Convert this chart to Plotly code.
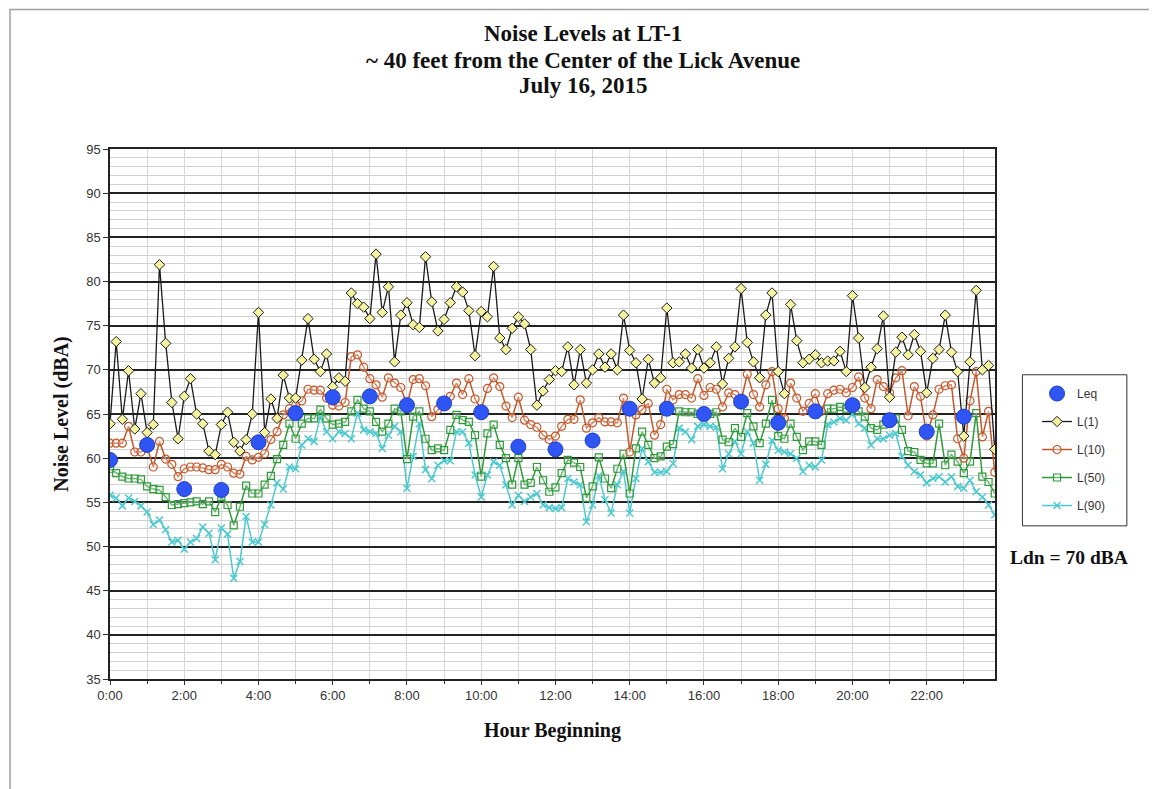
import plotly.graph_objects as go

# 10-minute intervals, 0:00 .. 23:50
minutes = list(range(0, 1440, 10))
hours = [m / 60 for m in minutes]

leq_hours = list(range(24))
leq = [59.8, 61.5, 56.5, 56.4, 61.8, 65.1, 66.9, 67.0, 66.0, 66.2, 65.2, 61.3,
       61.0, 62.0, 65.6, 65.6, 65.0, 66.4, 64.0, 65.3, 66.0, 64.3, 63.0, 64.7]

l1 = [63.9, 73.2, 64.4, 69.9, 63.3, 67.3, 62.9, 63.8, 81.9, 73.0, 66.3, 62.2,
      67.0, 69.0, 65.0, 63.9, 60.8, 60.4, 63.8, 65.2, 61.8, 60.8, 62.1, 65.0,
      76.5, 62.9, 66.7, 64.5, 69.4, 66.8, 66.8, 71.1, 75.8, 71.2, 69.8, 71.8,
      68.1, 69.1, 68.7, 78.7, 77.5, 77.1, 75.8, 83.1, 76.5, 79.4, 70.9, 76.2,
      77.6, 75.1, 74.8, 82.8, 77.7, 74.4, 75.7, 77.6, 79.4, 78.8, 76.7, 71.6,
      76.6, 76.0, 81.7, 73.6, 72.3, 74.7, 76.0, 75.2, 72.3, 66.0, 67.6, 68.9,
      69.9, 69.8, 72.6, 68.3, 72.3, 68.5, 70.0, 71.8, 70.3, 71.8, 70.0, 76.2,
      72.2, 70.8, 66.7, 71.2, 68.5, 69.1, 77.0, 70.8, 70.9, 71.8, 70.2, 72.3,
      70.2, 70.8, 72.6, 68.4, 71.3, 72.6, 79.2, 73.1, 70.9, 69.1, 76.2, 78.7,
      69.8, 67.3, 77.4, 73.3, 70.8, 71.2, 71.7, 70.8, 71.0, 71.0, 72.1, 69.8,
      78.4, 73.6, 68.0, 70.3, 72.4, 76.1, 66.9, 72.0, 73.7, 71.7, 74.0, 72.1,
      67.4, 71.3, 72.3, 76.2, 72.0, 69.8, 62.5, 70.9, 79.0, 70.0, 70.5, 61.0]

l10 = [61.7, 61.7, 61.7, 63.6, 60.7, 60.7, 61.3, 59.0, 61.9, 59.9, 59.3, 57.9,
       58.8, 59.0, 59.0, 58.9, 58.7, 58.7, 59.3, 59.0, 58.3, 58.2, 60.2, 59.8,
       60.1, 60.5, 62.1, 63.0, 64.9, 65.6, 66.0, 66.5, 67.8, 67.7, 67.7, 66.8,
       66.0, 65.9, 66.3, 71.5, 71.7, 70.3, 69.0, 68.3, 66.9, 69.1, 68.5, 68.0,
       66.0, 68.9, 69.0, 68.2, 64.7, 65.5, 66.3, 67.0, 68.5, 67.2, 69.0, 66.7,
       65.5, 67.9, 69.1, 68.1, 65.9, 64.6, 66.9, 64.3, 63.8, 63.5, 62.6, 62.1,
       62.5, 63.6, 64.4, 64.4, 66.6, 63.4, 64.0, 64.6, 64.1, 64.1, 64.0, 66.8,
       60.7, 64.9, 65.5, 66.2, 62.6, 63.8, 67.8, 66.6, 67.2, 67.2, 66.8, 69.0,
       67.1, 68.0, 67.8, 65.8, 67.4, 67.2, 66.5, 69.5, 67.2, 65.8, 68.3, 69.8,
       65.6, 64.5, 68.5, 66.8, 65.3, 66.2, 67.3, 65.3, 67.3, 67.7, 67.8, 67.4,
       68.0, 69.2, 66.8, 65.6, 68.9, 68.1, 67.4, 69.1, 69.9, 64.8, 68.1, 67.0,
       62.5, 64.9, 67.8, 68.2, 68.3, 62.2, 60.0, 66.5, 69.8, 62.4, 65.3, 58.4]

l50 = [58.8, 58.3, 57.9, 57.7, 57.7, 57.6, 56.8, 56.5, 56.4, 55.6, 54.7, 54.8,
       54.9, 55.0, 55.1, 54.8, 55.1, 53.9, 55.6, 54.7, 52.4, 54.5, 56.9, 56.0,
       56.0, 57.0, 58.0, 59.9, 61.5, 63.9, 62.2, 63.9, 64.5, 64.5, 65.5, 64.5,
       63.8, 63.9, 64.1, 65.3, 66.6, 65.6, 65.3, 64.1, 63.0, 63.9, 65.6, 65.3,
       59.9, 64.7, 65.3, 62.2, 60.9, 61.1, 60.9, 63.2, 64.9, 64.3, 64.1, 62.6,
       57.9, 62.8, 63.8, 61.5, 60.0, 57.0, 60.0, 57.0, 57.2, 59.0, 57.5, 56.2,
       56.7, 58.3, 59.8, 59.5, 59.0, 55.5, 56.8, 60.1, 57.7, 56.6, 58.8, 60.5,
       56.0, 61.1, 63.0, 61.5, 60.0, 60.2, 61.3, 61.6, 65.3, 65.2, 65.2, 65.0,
       65.2, 65.0, 65.2, 62.1, 61.8, 63.4, 62.4, 65.1, 63.6, 61.7, 63.9, 66.6,
       62.5, 62.2, 63.9, 62.4, 60.9, 61.9, 61.9, 61.5, 65.6, 65.6, 65.8, 65.6,
       66.1, 65.3, 64.7, 63.4, 63.2, 63.8, 64.5, 64.5, 63.2, 60.8, 60.7, 59.8,
       59.4, 59.4, 63.9, 59.2, 60.4, 59.6, 58.3, 59.6, 65.1, 57.9, 57.3, 56.0]

l90 = [55.8, 55.5, 54.6, 55.5, 55.1, 54.6, 53.9, 52.5, 53.0, 51.9, 50.5, 50.7,
       49.7, 50.5, 50.9, 52.2, 51.5, 48.5, 52.1, 51.4, 46.4, 48.3, 53.4, 50.5,
       50.5, 52.5, 54.7, 57.2, 56.5, 59.0, 58.8, 61.5, 62.2, 61.9, 64.7, 63.0,
       62.2, 63.0, 62.8, 62.2, 65.1, 63.2, 63.0, 62.8, 61.1, 62.6, 63.6, 63.0,
       56.6, 60.2, 63.9, 58.7, 57.7, 59.2, 59.7, 59.7, 63.0, 63.0, 61.7, 58.1,
       55.6, 58.1, 59.6, 59.2, 57.0, 54.7, 55.8, 55.1, 55.6, 56.0, 54.7, 54.4,
       54.3, 54.4, 57.7, 57.3, 57.0, 52.8, 54.7, 58.0, 55.3, 53.8, 57.0, 58.5,
       53.8, 57.7, 61.1, 59.6, 58.4, 58.4, 58.5, 59.4, 63.4, 63.0, 62.1, 63.6,
       63.8, 63.6, 63.5, 58.8, 60.5, 61.9, 60.5, 63.0, 61.7, 57.5, 59.3, 62.0,
       60.9, 60.7, 60.5, 60.0, 58.5, 59.2, 59.0, 59.8, 63.8, 64.1, 64.5, 64.3,
       65.0, 63.9, 63.4, 61.5, 62.2, 62.2, 62.6, 62.8, 60.2, 59.2, 58.5, 58.1,
       57.2, 57.7, 57.9, 57.3, 57.9, 56.8, 56.6, 57.5, 56.2, 55.6, 54.7, 53.6]

tick_hours = list(range(0, 24, 2))
tick_labels = ["%d:00" % h for h in tick_hours]

title_lines = ["Noise Levels at LT-1",
               "~ 40 feet from the Center of the Lick Avenue",
               "July 16, 2015"]

serif = "Liberation Serif, Times New Roman, serif"
sans = "Liberation Sans, Arial, sans-serif"

fig = go.Figure()

fig.add_trace(go.Scatter(
    x=hours, y=l90, name="L(90)", mode="lines+markers", legendrank=5,
    legendgroup="l90",
    line=dict(color="#4cc9cf", width=1.5),
    marker=dict(symbol="x-thin-open", size=7, line=dict(color="#4cc9cf", width=1.5)),
))
fig.add_trace(go.Scatter(
    x=hours, y=l50, name="L(50)", mode="lines+markers", legendrank=4,
    legendgroup="l50",
    line=dict(color="#2f9a3a", width=1.5),
    marker=dict(symbol="square", size=7, color="rgba(255,255,255,0.3)",
                line=dict(color="#2f9a3a", width=1.2)),
))
fig.add_trace(go.Scatter(
    x=hours, y=l10, name="L(10)", mode="lines+markers", legendrank=3,
    legendgroup="l10",
    line=dict(color="#c4582a", width=1.5),
    marker=dict(symbol="circle", size=8, color="rgba(255,255,255,0.3)",
                line=dict(color="#c4582a", width=1.2)),
))
fig.add_trace(go.Scatter(
    x=hours, y=l1, name="L(1)", mode="lines+markers", legendrank=2,
    legendgroup="l1",
    line=dict(color="#1a1a1a", width=1.3),
    marker=dict(symbol="diamond", size=8, color="#f4f4a0",
                line=dict(color="#1a1a1a", width=1)),
))
fig.add_trace(go.Scatter(
    x=leq_hours, y=leq, name="Leq", mode="markers", legendrank=1,
    legendgroup="leq",
    marker=dict(symbol="circle", size=15, color="#2f55f5",
                line=dict(color="#2040c8", width=1)),
))

# the page body adds an 8px offset, margins are set to compensate
fig.update_layout(
    width=1157, height=789,
    paper_bgcolor="white", plot_bgcolor="white",
    margin=dict(l=102, r=170, t=141, b=118),
    legend=dict(
        x=1.0475, y=0.566, xanchor="left", yanchor="top",
        bgcolor="rgba(0,0,0,0)", borderwidth=0,
        font=dict(family=sans, size=12, color="#333333"),
        tracegroupgap=9,
        itemwidth=30,
    ),
    showlegend=True,
)

fig.update_xaxes(
    range=[0, 23.84], tickvals=tick_hours, ticktext=tick_labels,
    tickfont=dict(family=sans, size=13, color="#333333"),
    showgrid=True, gridcolor="#d8d8d8", gridwidth=1,
    minor=dict(dtick=1, tick0=0, showgrid=True, gridcolor="#d8d8d8", ticks="outside",
               ticklen=3, tickcolor="#333333"),
    ticks="outside", ticklen=4, tickcolor="#333333",
    showline=True, linecolor="#222222", linewidth=1.5, mirror=True,
    zeroline=False,
    title=dict(text="<b>Hour Beginning</b>", font=dict(family=serif, size=20, color="#111111"),
               standoff=21),
)

fig.update_yaxes(
    range=[35, 95], dtick=5, tick0=35,
    tickfont=dict(family=sans, size=13, color="#333333"),
    showgrid=True, gridcolor="#222222", gridwidth=1.5,
    minor=dict(dtick=1, showgrid=True, gridcolor="#d0d0d0", gridwidth=1),
    ticks="outside", ticklen=5, tickcolor="#333333",
    showline=True, linecolor="#222222", linewidth=1.5, mirror=True,
    zeroline=False,
    title=dict(text="<b>Noise Level (dBA)</b>", font=dict(family=serif, size=20, color="#111111"),
               standoff=12),
)

# three title lines, placed one by one for tight line spacing
for line, yp in zip(title_lines, [1.217, 1.167, 1.119]):
    fig.add_annotation(
        text="<b>%s</b>" % line, xref="paper", yref="paper",
        x=0.5345, y=yp, xanchor="center", yanchor="middle", showarrow=False,
        font=dict(family=serif, size=23, color="#111111"),
    )

fig.add_annotation(
    text="<b>Ldn = 70 dBA</b>", xref="paper", yref="paper",
    x=1.084, y=0.23, xanchor="center", yanchor="middle", showarrow=False,
    font=dict(family=serif, size=19.5, color="#111111"),
)

# legend box
fig.add_shape(type="rect", xref="paper", yref="paper",
              x0=1.031, x1=1.149, y0=0.289, y1=0.574,
              line=dict(color="#333333", width=1))

# outer frame of the chart area
fig.add_shape(type="rect", xref="paper", yref="paper",
              x0=-0.113, x1=1.181, y0=-0.25, y1=1.263,
              line=dict(color="#a0a0a0", width=1.5), layer="below")

fig.write_html("out.html")
